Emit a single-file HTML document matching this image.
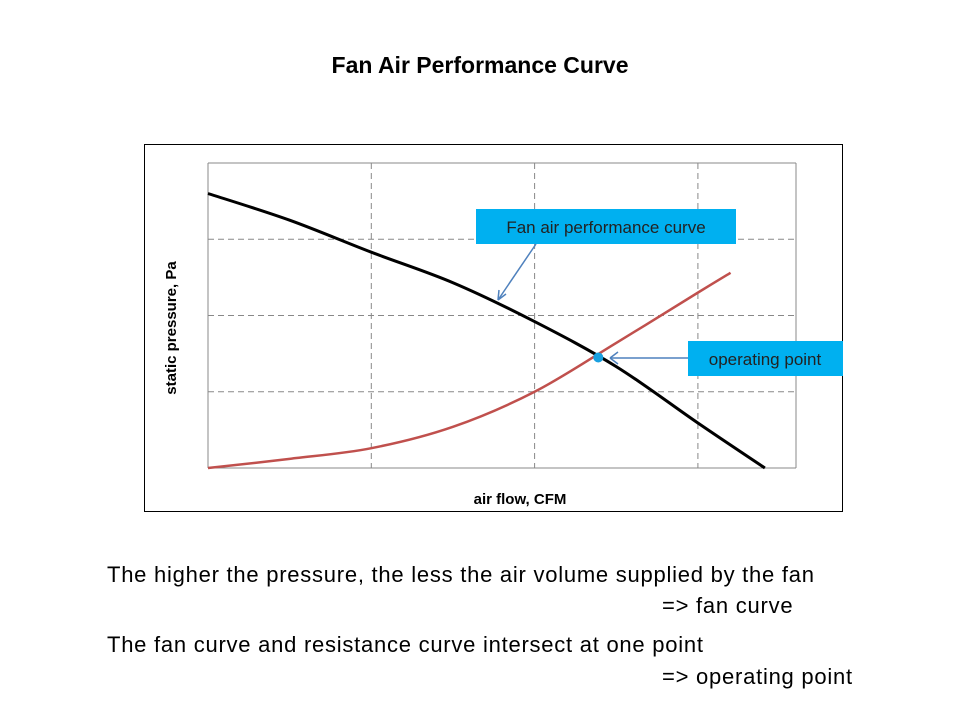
<!DOCTYPE html>
<html><head><meta charset="utf-8"><style>
body{margin:0;background:#fff;width:960px;height:720px;overflow:hidden;font-family:"Liberation Sans",sans-serif}
.t{position:absolute;white-space:nowrap}
.n{font-size:22px;letter-spacing:0.75px}
</style></head><body>
<div class="t" style="left:0;width:960px;text-align:center;top:52px;font-size:23px;font-weight:bold">Fan Air Performance Curve</div>
<svg width="960" height="720" style="position:absolute;left:0;top:0">
<rect x="144.5" y="144.5" width="698" height="367" fill="#fff" stroke="#000"/>
<g id="grid"></g>
<path id="red" fill="none" stroke="#c0504d" stroke-width="2.5"/>
<path id="black" fill="none" stroke="#000" stroke-width="3"/>
<circle id="op" r="5" fill="#1aa0e0"/>
<g>
<rect x="476" y="209" width="260" height="35" fill="#00b0f0"/>
<text x="606" y="233" text-anchor="middle" font-size="17" fill="#222">Fan air performance curve</text>
<line x1="536" y1="244" x2="498" y2="300" stroke="#4f81bd" stroke-width="1.5"/>
<path d="M498 300 l1 -10 M498 300 l8 -6" stroke="#4f81bd" stroke-width="1.5" fill="none"/>
</g>
<g>
<rect x="688" y="341" width="155" height="35" fill="#00b0f0"/>
<text x="765" y="365" text-anchor="middle" font-size="17" fill="#222">operating point</text>
<line x1="688" y1="358" x2="610" y2="358" stroke="#4f81bd" stroke-width="1.5"/>
<path d="M610 358 l8 -6 M610 358 l8 6" stroke="#4f81bd" stroke-width="1.5" fill="none"/>
</g>
<text x="176" y="328" transform="rotate(-90 176 328)" text-anchor="middle" font-size="15" font-weight="bold">static pressure, Pa</text>
<text x="520" y="504" text-anchor="middle" font-size="15" font-weight="bold">air flow, CFM</text>
</svg>
<div class="t n" style="left:107px;top:562px">The higher the pressure, the less the air volume supplied by the fan</div>
<div class="t n" style="left:662px;top:593px">=&gt; fan curve</div>
<div class="t n" style="left:107px;top:632px">The fan curve and resistance curve intersect at one point</div>
<div class="t n" style="left:662px;top:664px">=&gt; operating point</div>
<script>
const fanX=[0,0.5,1,1.5,2,2.5,3,3.41];
const fanY=[3.6,3.25,2.83,2.43,1.92,1.33,0.59,0];
const resX=[0,0.5,1,1.5,2,2.5,3,3.2];
const resY=[0,0.12,0.26,0.54,1.0,1.64,2.3,2.56];
const opPoint=[2.39,1.45];
const xTicks=[0,1,2,3];
const yTicks=[0,1,2,3,4];
const X0=208,X1=796,Y0=468,Y1=163,XU=163.3;
const sx=v=>X0+v*XU, sy=v=>Y0-v*(Y0-Y1)/4;
const g=document.getElementById('grid');
const NS='http://www.w3.org/2000/svg';
function ln(x1,y1,x2,y2,dash,name){const l=document.createElementNS(NS,'line');l.setAttribute('x1',x1);l.setAttribute('y1',y1);l.setAttribute('x2',x2);l.setAttribute('y2',y2);l.setAttribute('stroke','#888');l.setAttribute('stroke-width','1');if(dash)l.setAttribute('stroke-dasharray','6,4');


g.appendChild(l);}
xTicks.forEach((t,i)=>{const x=sx(t);ln(x,Y1,x,Y0,i>0,'x-gridline');});
ln(X1,Y1,X1,Y0,false,'plot-right-edge');
yTicks.forEach((t,i)=>{const y=sy(t);ln(X0,y,X1,y,i>0&&i<4,'y-gridline');});
function path(xs,ys){const p=xs.map((x,i)=>[sx(x),sy(ys[i])]);let d='M'+p[0];for(let i=0;i<p.length-1;i++){const a=p[i-1]||p[i],b=p[i],c=p[i+1],e=p[i+2]||c;d+=' C'+(b[0]+(c[0]-a[0])/6)+','+(b[1]+(c[1]-a[1])/6)+' '+(c[0]-(e[0]-b[0])/6)+','+(c[1]-(e[1]-b[1])/6)+' '+c[0]+','+c[1];}return d;}
document.getElementById('black').setAttribute('d',path(fanX,fanY));
document.getElementById('red').setAttribute('d',path(resX,resY));
const op=document.getElementById('op');op.setAttribute('cx',sx(opPoint[0]));op.setAttribute('cy',sy(opPoint[1]));
</script>
</body></html>
